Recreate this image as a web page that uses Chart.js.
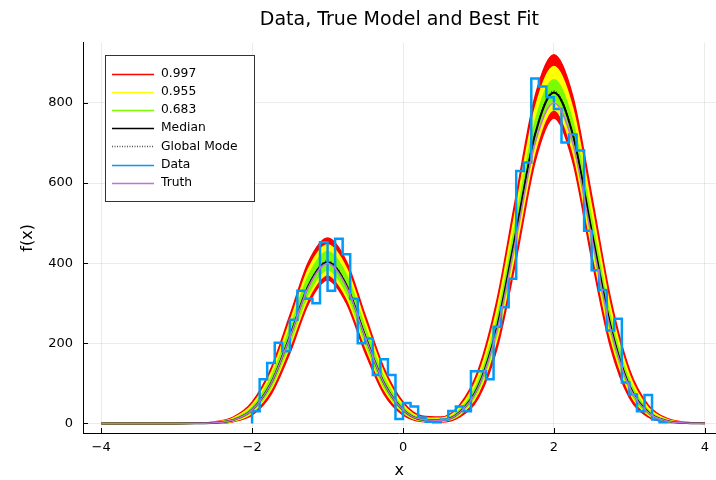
<!DOCTYPE html>
<html>
<head>
<meta charset="utf-8">
<title>Data, True Model and Best Fit</title>
<script src="https://cdn.jsdelivr.net/npm/chart.js@4.4.1/dist/chart.umd.min.js"></script>
<style>
	html, body { margin: 0; padding: 0; background: #fff; }
	#wrap { width: 716px; height: 480px; }
</style>
</head>
<body>
<div id="wrap"><canvas id="fitChart" width="716" height="480"></canvas></div>
<script>

// Values

const curveX = [-4, -3.75, -3.5, -3.25, -3, -2.75, -2.5, -2.25, -2, -1.75, -1.5, -1.25, -1, -0.75, -0.5, -0.25, 0, 0.25, 0.5, 0.75, 1, 1.25, 1.5, 1.75, 2, 2.25, 2.5, 2.75, 3, 3.25, 3.5, 3.75, 4];

const median = [0, 0, 0, 0, 0, 0.2, 1.6, 8.5, 34, 100, 217, 345, 402, 345, 217, 100, 34, 9.6, 7.9, 28, 94, 244, 480, 721, 826, 721, 480, 244, 94, 28, 6.3, 1.1, 0.1];

const globalMode = [0, 0, 0, 0, 0, 0.2, 1.6, 8.6, 34.4, 101, 219, 348, 406, 348, 219, 101, 34.5, 9.7, 7.9, 28.2, 94.8, 245, 482, 725, 830, 725, 482, 245, 95, 28, 6.3, 1.1, 0.1];

const truth = [0, 0, 0, 0, 0, 0.2, 1.5, 8.4, 33.8, 99.5, 215, 342, 399, 342, 215, 99.5, 33.9, 9.4, 7.6, 27.2, 91.4, 236, 465, 699, 800, 699, 465, 236, 91, 27, 6.1, 1.0, 0.1];

const redUpper = [0, 0, 0, 0, 0.1, 0.6, 3.5, 15.6, 52.9, 136.6, 269, 404, 463, 404, 269, 136.6, 53.3, 18.2, 15.7, 46.2, 134.7, 312, 569, 816, 920, 816, 569, 312, 134.6, 45.6, 12.2, 2.6, 0.4];
const redLower = [0, 0, 0, 0, 0, 0.1, 0.6, 4.3, 21.1, 72.7, 176, 300, 358, 300, 176, 72.7, 21.1, 4.7, 3.5, 16.2, 64.5, 190, 411, 653, 762, 653, 411, 190, 64.5, 16.1, 2.9, 0.4, 0];

const yellowUpper = [0, 0, 0, 0, 0.05, 0.4, 2.7, 13, 46.4, 125, 253, 387, 446, 387, 253, 125, 46.7, 15, 12.6, 39.5, 120.7, 289, 540, 786, 891, 786, 540, 289, 121, 39, 9.9, 2.0, 0.3];
const yellowLower = [0, 0, 0, 0, 0, 0.1, 1.0, 6.0, 26.4, 84, 192, 314.5, 371, 314.5, 192, 84, 26.5, 6.7, 5.3, 21.2, 77.6, 213, 439, 678, 783, 678, 439, 213, 77.6, 21.1, 4.3, 0.7, 0.1];

const greenUpper = [0, 0, 0, 0, 0, 0.3, 2.1, 10.7, 40.4, 113.6, 237.6, 370, 429, 370, 237.6, 113.6, 40.6, 12.2, 10, 33.4, 107, 266, 510, 753, 858, 753, 510, 266, 107, 33, 7.9, 1.5, 0.2];
const greenLower = [0, 0, 0, 0, 0, 0.1, 1.2, 6.8, 29, 89.6, 201, 326, 383, 326, 201, 89.6, 29.1, 7.6, 6.0, 23.6, 84, 226, 458, 700, 806, 700, 458, 226, 84, 23.5, 4.9, 0.8, 0.1];

// histogram bin edges (one more than counts)
const histEdges = [-2.0, -1.9, -1.8, -1.7, -1.6, -1.5, -1.4, -1.3, -1.2, -1.1, -1.0, -0.9, -0.8, -0.7, -0.6, -0.5, -0.4, -0.3, -0.2, -0.1, 0, 0.1, 0.2, 0.3, 0.4, 0.5, 0.6, 0.7, 0.8, 0.9, 1.0, 1.1, 1.2, 1.3, 1.4, 1.5, 1.6, 1.7, 1.8, 1.9, 2.0, 2.1, 2.2, 2.3, 2.4, 2.5, 2.6, 2.7, 2.8, 2.9, 3.0, 3.1, 3.2, 3.3, 3.4, 3.5];

const histCounts = [30, 110, 151, 201, 180, 259, 331, 311, 300, 452,
	331, 461, 422, 311, 200, 212, 121, 160, 121, 11,
	51, 42, 15, 4, 3, 10, 31, 42, 30, 130,
	130, 110, 241, 290, 361, 630, 651, 861, 841, 814,
	785, 701, 721, 681, 481, 382, 333, 232, 261, 102,
	72, 30, 71, 10, 3];

const xTicks = [-4, -2, 0, 2, 4];
const yTicks = [0, 200, 400, 600, 800];

const legendLabels = ['0.997', '0.955', '0.683', 'Median', 'Global Mode', 'Data', 'Truth'];

const FONT = '"DejaVu Sans", "Liberation Sans", sans-serif';

function curve(values) {

	return curveX.map((x, i) => ({ x: x, y: values[i] }));

}

// outline of the histogram: one point per bin edge, closed down to zero at both ends
function histPoints() {

	const pts = [{ x: histEdges[0], y: 0 }];

	histCounts.forEach((c, i) => pts.push({ x: histEdges[i], y: c }));

	pts.push({ x: histEdges[histEdges.length - 1], y: histCounts[histCounts.length - 1] });

	pts.push({ x: histEdges[histEdges.length - 1], y: 0 });

	return pts;

}

function minusLabel(value) {

	return value < 0 ? '\u2212' + Math.abs(value) : String(value);

}

// legend box drawn inside the plot, top left
const legendStyles = [
	{ color: '#FF0000', dash: [] },
	{ color: '#FFFF00', dash: [] },
	{ color: '#7CFC00', dash: [] },
	{ color: '#000000', dash: [] },
	{ color: '#555555', dash: [1, 1.5] },
	{ color: '#009AFA', dash: [] },
	{ color: '#C371D2', dash: [] }
];

const boxLegend = {

	id: 'boxLegend',

	afterDraw(chart) {

		const ctx = chart.ctx;

		const left = 105, top = 55, w = 149, h = 146;

		ctx.save();

		ctx.fillStyle = '#fff';

		ctx.fillRect(left, top, w, h);

		ctx.strokeStyle = '#333';

		ctx.lineWidth = 1;

		ctx.strokeRect(left + 0.5, top + 0.5, w, h);

		ctx.font = '12.3px ' + FONT;

		ctx.textBaseline = 'middle';

		legendLabels.forEach((label, i) => {

			const y = top + 19 + i * 18.1;

			const st = legendStyles[i];

			ctx.beginPath();

			ctx.setLineDash(st.dash);

			ctx.strokeStyle = st.color;

			ctx.lineWidth = 1.3;

			ctx.moveTo(left + 7, Math.round(y) + 0.5);

			ctx.lineTo(left + 49, Math.round(y) + 0.5);

			ctx.stroke();

			ctx.setLineDash([]);

			ctx.fillStyle = '#000';

			ctx.fillText(label, left + 56, y);

		});

		ctx.restore();

	}

};

// small inward tick marks on the two spines
const innerTicks = {

	id: 'innerTicks',

	afterDraw(chart) {

		const { ctx, chartArea, scales } = chart;

		ctx.save();

		ctx.strokeStyle = '#000';

		ctx.lineWidth = 1;

		ctx.beginPath();

		xTicks.forEach(v => {

			const px = Math.round(scales.x.getPixelForValue(v)) + 0.5;

			ctx.moveTo(px, chartArea.bottom);

			ctx.lineTo(px, chartArea.bottom - 5);

		});

		yTicks.forEach(v => {

			const py = Math.round(scales.y.getPixelForValue(v)) + 0.5;

			ctx.moveTo(chartArea.left, py);

			ctx.lineTo(chartArea.left + 5, py);

		});

		ctx.stroke();

		ctx.restore();

	}

};

function bandLine(values, color, fill) {

	return {

		data: curve(values),

		borderColor: color,

		backgroundColor: color,

		borderWidth: 1.5,

		cubicInterpolationMode: 'monotone',

		fill: fill

	};

}

document.addEventListener('DOMContentLoaded', function() {

	const ctx = document.getElementById('fitChart').getContext('2d');

	new Chart(ctx, {

		type: 'line',

		data: {

			datasets: [

				{ data: curve(truth), borderColor: '#C371D2', borderWidth: 1.5, cubicInterpolationMode: 'monotone', fill: false },

				// 'before' in Chart.js: run flat at the previous height, then drop/rise at the next edge
				{ data: histPoints(), borderColor: '#009AFA', borderWidth: 2.5, stepped: 'before', fill: false },

				{ data: curve(globalMode), borderColor: '#000', borderWidth: 1, borderDash: [1, 2], cubicInterpolationMode: 'monotone', fill: false },

				{ data: curve(median), borderColor: '#000', borderWidth: 2, cubicInterpolationMode: 'monotone', fill: false },

				bandLine(greenUpper, '#7CFC00', '+1'),

				bandLine(greenLower, '#7CFC00', false),

				bandLine(yellowUpper, '#FFFF00', '+1'),

				bandLine(yellowLower, '#FFFF00', false),

				bandLine(redUpper, '#FF0000', '+1'),

				bandLine(redLower, '#FF0000', false)

			]

		},

		options: {

			responsive: false,

			animation: false,

			events: [],

			elements: { point: { radius: 0 } },

			layout: { padding: 0 },

			plugins: {

				legend: { display: false },

				tooltip: { enabled: false },

				title: {

					display: true,

					text: 'Data, True Model and Best Fit',

					color: '#000',

					fullSize: false,

					font: { family: FONT, size: 19, weight: 'normal' },

					padding: { top: 9, bottom: 11 }

				}

			},

			scales: {

				x: {

					type: 'linear',

					min: -4.241,

					max: 4.143,

					afterBuildTicks: axis => { axis.ticks = xTicks.map(v => ({ value: v })); },

					afterFit: axis => { axis.height = 47; },

					grid: { color: 'rgba(0,0,0,0.08)', drawTicks: false },

					border: { display: true, color: '#000', width: 1 },

					ticks: { color: '#000', padding: 7, font: { family: FONT, size: 13 }, callback: minusLabel, maxRotation: 0 },

					title: { display: true, text: 'x', color: '#000', font: { family: FONT, size: 16 }, padding: { top: 0, bottom: 0 } }

				},

				y: {

					min: -24,

					max: 950,

					afterBuildTicks: axis => { axis.ticks = yTicks.map(v => ({ value: v })); },

					afterFit: axis => { axis.width = 83; },

					grid: { color: 'rgba(0,0,0,0.08)', drawTicks: false },

					border: { display: true, color: '#000', width: 1 },

					ticks: { color: '#000', padding: 10, font: { family: FONT, size: 13 }, callback: minusLabel },

					title: { display: true, text: 'f(x)', color: '#000', font: { family: FONT, size: 16 }, padding: { top: 18, bottom: 0 } }

				}

			}

		},

		plugins: [innerTicks, boxLegend]

	});

});

</script>
</body>
</html>
